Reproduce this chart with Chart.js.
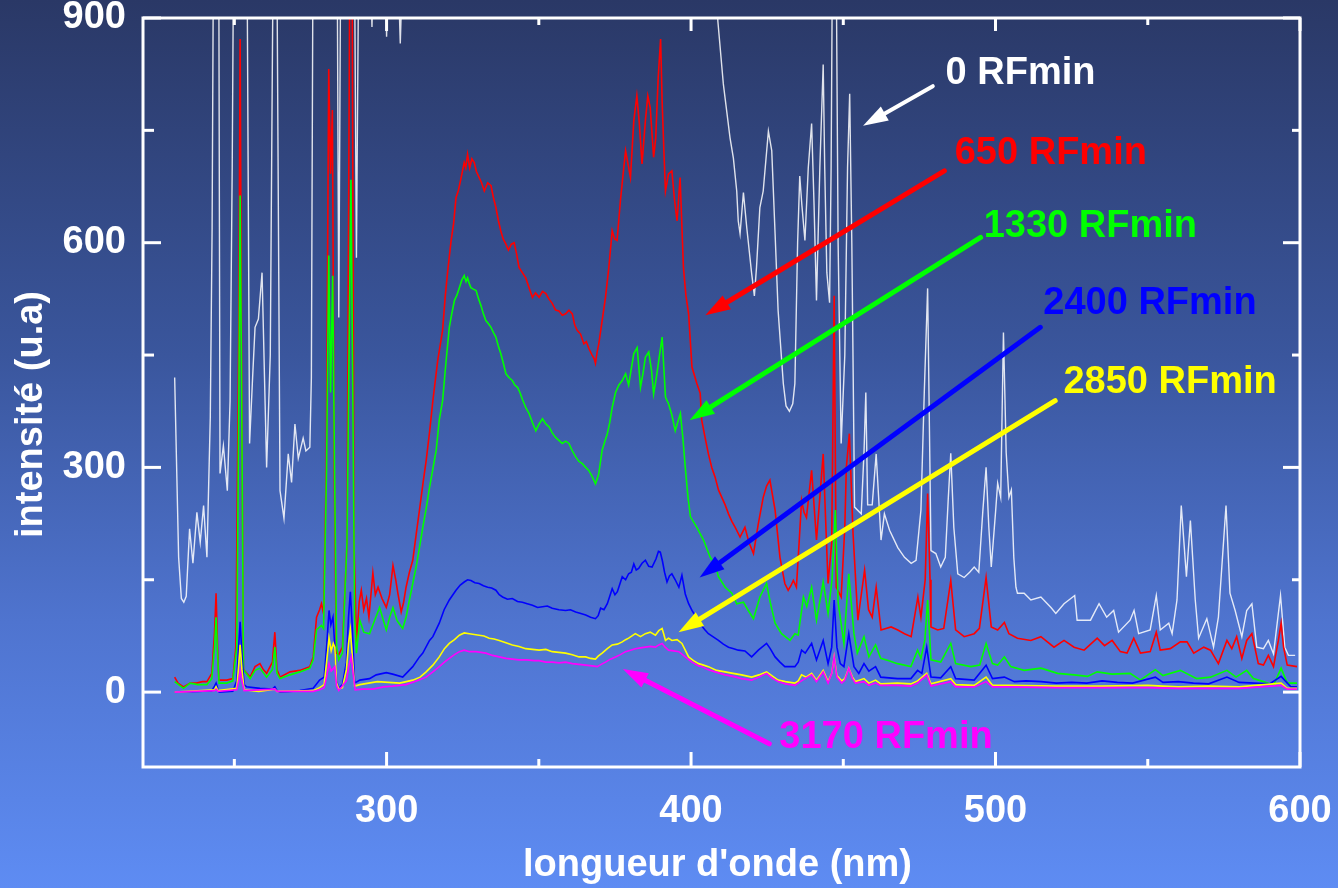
<!DOCTYPE html>
<html>
<head>
<meta charset="utf-8">
<title>intensité (u.a) - longueur d'onde (nm)</title>
<script src="https://cdn.jsdelivr.net/npm/chart.js@4.4.1/dist/chart.umd.min.js"></script>
<style>
  html, body { margin: 0; padding: 0; }
  body {
    width: 1338px; height: 888px; overflow: hidden;
    background: linear-gradient(to bottom, #2a3866 0%, #3a569d 40%, #4f74cf 70%, #5e8cf3 100%);
  }
  canvas { display: block; }
</style>
</head>
<body>
<canvas id="spectrum" width="1338" height="888"></canvas>
<script>
// emission spectra after increasing RF exposure, [wavelength nm, intensity]
const doses = ['0 RFmin', '650 RFmin', '1330 RFmin', '2400 RFmin', '2850 RFmin', '3170 RFmin'];

// values above 900 run off the top of the frame
const spec0 = [
  [230.4,420],[231.7,180],[232.6,125],[233.4,120],[234.2,128],[235.3,218],[236.4,172],[237.7,240],[238.8,200],[239.9,249],
  [241.0,180],[242.1,367],[242.7,620],[243.1,960],[244.9,960],[245.3,292],[246.4,329],[247.7,269],[248.6,389],[249.3,700],
  [249.7,960],[254.2,960],[255.0,332],[256.0,420],[256.8,487],[257.9,498],[259.1,560],[260.6,300],[261.8,450],[262.7,960],
  [264.0,960],[265.0,269],[266.3,232],[267.7,318],[268.8,280],[269.9,358],[271.0,312],[272.6,339],[273.5,322],[274.8,327],
  [275.3,420],[275.8,960],[283.8,960],[284.3,500],[284.9,960],[289.5,960],[290.1,580],[290.8,960],[294.8,960],[295.2,888],
  [295.6,960],[299.6,960],[300.0,875],[300.4,960],[303.8,960],[304.5,866],[305.2,960],[408.3,960],[408.8,896],[410.6,812],
  [412.8,740],[413.9,713],[415.0,669],[415.5,629],[416.1,612],[417.2,667],[418.3,620],[419.9,559],[420.8,529],[421.5,567],
  [422.6,647],[423.7,669],[425.4,749],[426.5,723],[427.6,612],[428.6,509],[430.3,412],[431.2,382],[432.3,375],[433.4,385],
  [434.1,412],[435.0,600],[435.7,689],[436.4,650],[437.4,603],[438.5,700],[439.6,759],[440.4,650],[441.2,523],[442.3,700],
  [443.4,838],[443.9,700],[444.6,560],[445.5,520],[446.0,700],[446.4,960],[447.7,960],[448.3,600],[449.3,332],[450.5,450],
  [451.4,700],[452.1,799],[452.8,600],[453.7,247],[455.9,238],[456.8,320],[457.4,400],[458.0,250],[459.5,250],[460.8,318],
  [462.4,203],[463.5,238],[465.2,216],[467.9,193],[470.1,180],[472.3,172],[473.9,176],[475.5,243],[476.6,400],[477.7,539],
  [478.3,350],[478.8,189],[480.4,185],[482.0,167],[483.5,180],[484.5,260],[485.3,319],[486.3,220],[487.6,158],[489.7,153],
  [491.5,160],[493.0,167],[494.5,160],[495.8,240],[496.9,300],[497.8,220],[498.6,167],[500.0,240],[500.7,279],[501.7,260],
  [502.6,480],[503.5,320],[504.4,260],[505.2,270],[506.0,180],[506.7,140],[507.2,132],[509.4,132],[511.6,123],[514.9,127],
  [518.2,113],[519.8,105],[522.5,118],[526.0,129],[526.8,96],[531.2,96],[534.0,118],[536.5,100],[538.8,109],[540.4,80],
  [544.2,96],[545.5,109],[547.0,78],[550.8,83],[552.8,129],[554.1,83],[556.9,92],[558.0,78],[559.6,123],[561.0,249],
  [562.7,154],[564.0,229],[565.6,123],[566.7,72],[569.4,98],[571.6,60],[573.2,100],[575.7,249],[577.0,132],[578.7,109],
  [580.9,74],[582.5,109],[584.2,118],[585.8,60],[588.0,58],[589.6,69],[591.3,51],[593.6,129],[595.0,60],[596.2,49],[598.4,49]
];

const spec1 = [
  [230.4,20],[231.5,12],[233.3,7],[235.5,12],[237.5,12],[239.5,14],[241.0,14],[242.6,25],[243.5,80],[244.0,132],
  [244.5,60],[244.9,16],[247.5,16],[249.5,18],[250.5,60],[251.5,500],[251.9,872],[252.3,500],[253.0,30],[255.2,20],
  [256.8,34],[258.4,38],[259.5,30],[260.6,25],[262.5,40],[263.3,80],[264.0,30],[265.0,20],[268.3,27],[271.5,29],
  [274.8,34],[275.9,47],[277.0,100],[278.0,110],[278.6,118],[279.3,105],[280.2,300],[281.0,832],[281.6,692],[282.2,777],
  [282.8,300],[283.5,52],[284.3,50],[285.5,60],[287.0,200],[287.9,950],[288.7,950],[289.3,200],[290.1,65],[291.0,120],
  [291.7,136],[292.5,110],[293.4,125],[294.2,100],[295.5,159],[296.3,130],[297.2,140],[298.5,125],[299.9,113],[301.0,130],
  [302.1,169],[303.0,150],[303.7,132],[304.8,107],[305.6,120],[306.4,140],[307.5,160],[308.6,176],[309.7,210],[310.8,243],
  [312.0,280],[313.0,309],[314.2,350],[315.2,389],[316.8,443],[318.4,483],[319.3,530],[320.1,563],[321.2,603],[322.0,625],
  [322.8,660],[323.6,670],[324.5,687],[325.5,707],[326.0,700],[326.6,718],[327.3,700],[328.0,712],[328.8,707],[329.5,695],
  [330.4,687],[331.2,680],[332.1,669],[333.2,680],[334.3,676],[335.1,660],[335.9,647],[336.7,630],[337.5,616],[338.3,605],
  [339.2,598],[340.0,590],[341.0,598],[341.9,600],[342.7,585],[343.5,567],[344.6,560],[345.7,553],[346.8,540],[347.9,527],
  [348.9,533],[350.1,527],[351.2,535],[352.3,532],[353.3,525],[354.4,519],[355.5,510],[356.6,509],[357.7,503],[358.8,505],
  [359.9,510],[361.0,505],[361.8,490],[362.6,483],[363.7,478],[364.8,465],[365.6,468],[366.4,459],[367.5,450],[368.2,445],
  [368.6,439],[369.2,455],[369.7,465],[370.8,496],[371.9,527],[373.0,567],[374.1,616],[374.9,605],[375.7,603],[376.8,656],
  [377.9,700],[378.5,723],[379.3,705],[380.1,687],[381.2,763],[382.2,796],[383.0,760],[383.9,705],[385.0,763],[385.8,796],
  [386.6,780],[387.7,714],[388.4,740],[389.2,820],[390.0,872],[390.5,789],[391.1,720],[391.6,669],[392.6,692],[393.7,696],
  [394.5,660],[395.4,629],[396.4,687],[397.5,567],[398.3,530],[399.2,505],[400.3,434],[401.9,412],[403.0,399],[403.5,363],
  [404.6,340],[405.7,318],[406.8,300],[407.9,287],[409.0,270],[410.1,260],[411.2,250],[412.3,238],[413.4,228],[414.5,220],
  [416.1,207],[417.7,220],[419.0,200],[420.5,185],[422.1,225],[423.7,260],[424.8,275],[425.9,283],[427.6,243],[429.2,180],
  [430.8,145],[431.9,136],[432.8,142],[433.6,149],[434.6,140],[435.5,200],[436.3,256],[437.1,240],[437.9,233],[439.6,296],
  [441.2,203],[442.3,260],[443.4,318],[444.2,230],[445.0,145],[446.2,200],[447.0,529],[447.7,140],[449.3,127],[450.5,220],
  [451.0,300],[452.0,345],[453.2,212],[454.8,96],[455.9,130],[457.0,163],[458.3,110],[459.5,100],[460.8,140],[462.4,83],
  [465.7,87],[467.9,83],[470.1,78],[472.3,74],[474.5,127],[475.5,100],[476.9,150],[477.7,265],[478.5,150],[478.8,87],
  [481.0,83],[483.0,85],[485.3,149],[486.9,83],[489.7,74],[493.0,78],[494.7,85],[496.9,153],[498.6,87],[500.7,83],
  [502.9,93],[504.4,78],[507.2,72],[511.6,69],[514.9,74],[519.2,60],[522.5,69],[525.8,60],[529.1,56],[533.4,72],
  [535.8,62],[538.3,69],[541.0,54],[543.2,52],[545.4,72],[547.6,52],[550.8,54],[552.8,80],[554.1,56],[557.4,58],
  [560.7,67],[562.9,67],[565.1,52],[568.4,60],[570.6,56],[573.2,38],[576.0,69],[577.6,58],[579.2,74],[580.9,45],
  [582.5,69],[584.2,78],[586.3,38],[588.0,36],[589.6,49],[591.3,34],[592.9,69],[593.8,92],[594.6,60],[595.8,36],[599.0,34]
];

const spec2 = [
  [230.4,14],[233.3,5],[235.5,12],[238.0,10],[241.0,10],[242.6,18],[243.5,60],[244.0,100],[244.6,40],[245.0,12],
  [247.5,12],[249.5,15],[250.8,60],[251.5,400],[251.9,663],[252.4,400],[253.0,30],[255.2,18],[256.8,29],[258.4,32],
  [260.6,20],[262.5,30],[263.3,60],[264.0,25],[265.0,18],[268.3,23],[271.5,27],[274.8,32],[275.9,43],[277.0,83],
  [278.6,89],[279.3,85],[280.3,300],[281.0,583],[281.6,400],[282.3,556],[282.9,300],[283.6,60],[284.3,43],[285.5,52],
  [287.0,200],[287.8,500],[288.3,684],[288.9,400],[289.5,100],[290.1,52],[291.2,96],[292.5,80],[294.4,78],[296.0,95],
  [297.7,113],[299.0,95],[299.9,83],[301.0,100],[302.1,113],[303.5,95],[305.3,85],[306.4,100],[307.5,123],[308.6,145],
  [309.7,167],[310.8,193],[311.9,220],[313.0,245],[314.1,273],[315.2,298],[316.3,323],[317.3,363],[318.4,389],[319.5,440],
  [320.6,487],[321.4,505],[322.3,523],[323.1,530],[323.9,540],[324.7,550],[325.5,556],[326.1,548],[326.6,553],[327.2,545],
  [327.7,540],[328.5,538],[329.4,536],[330.2,525],[331.0,516],[331.8,505],[332.6,496],[333.4,492],[334.3,487],[335.1,480],
  [335.9,474],[336.7,462],[337.5,452],[338.3,440],[339.2,425],[340.2,420],[341.3,416],[342.1,410],[343.0,407],[343.8,400],
  [344.6,391],[345.7,380],[346.8,372],[347.9,360],[349.0,349],[350.1,358],[351.2,365],[352.3,358],[353.4,354],[354.4,346],
  [355.5,340],[356.6,336],[357.7,332],[358.8,335],[359.9,332],[361.0,322],[362.1,314],[363.2,308],[364.3,305],[365.4,300],
  [366.4,296],[367.5,288],[368.6,278],[369.2,285],[369.7,292],[370.8,323],[371.7,335],[372.5,345],[373.3,360],[374.1,380],
  [375.2,400],[376.3,410],[377.4,416],[378.5,425],[379.5,410],[380.3,430],[381.2,452],[382.3,460],[383.4,407],[384.2,425],
  [385.0,447],[386.1,454],[387.0,430],[387.7,398],[388.6,420],[389.4,443],[390.5,474],[391.1,430],[391.6,394],[392.6,385],
  [393.7,370],[394.8,349],[395.6,360],[396.5,372],[397.3,340],[398.1,300],[399.0,260],[399.8,234],[401.9,220],[404.1,203],
  [406.3,180],[407.9,171],[409.0,154],[411.2,140],[413.4,132],[415.0,118],[417.2,120],[418.8,109],[420.5,98],[422.6,127],
  [424.8,145],[426.0,120],[427.6,92],[429.7,78],[432.5,69],[434.1,78],[435.2,76],[436.9,127],[438.0,114],[439.6,140],
  [441.2,96],[443.4,147],[445.0,105],[446.3,150],[447.4,243],[448.3,120],[450.2,65],[451.8,158],[453.5,78],[454.6,52],
  [456.8,74],[458.4,47],[460.6,63],[462.3,45],[465.0,42],[467.8,38],[472.2,34],[474.4,56],[475.5,45],[476.8,70],
  [477.7,123],[478.8,43],[482.0,40],[485.3,65],[486.9,38],[491.9,34],[494.8,36],[496.9,65],[499.0,38],[500.7,36],
  [502.9,47],[505.0,34],[509.4,29],[514.9,32],[520.4,25],[525.8,23],[530.2,21],[533.4,27],[538.3,24],[544.2,25],
  [547.6,16],[552.5,30],[555.0,22],[560.7,29],[566.1,18],[570.6,20],[576.0,29],[579.0,20],[582.5,29],[584.7,18],
  [588.0,14],[591.3,9],[593.8,32],[595.8,12],[599.0,12]
];

const spec3 = [
  [230.4,0],[238.0,1],[242.6,2],[243.5,8],[244.0,12],[244.6,4],[245.0,0],[249.5,1],[250.8,15],[251.4,60],
  [251.9,94],[252.5,50],[253.2,10],[254.0,7],[258.4,5],[262.5,4],[263.3,7],[264.0,2],[265.0,0],[271.5,2],
  [275.9,5],[278.0,16],[279.5,20],[280.3,60],[281.1,109],[281.7,90],[282.4,100],[283.0,60],[283.6,15],[284.3,5],
  [285.5,10],[286.8,40],[287.5,100],[288.1,134],[288.7,90],[289.5,12],[291.2,16],[294.4,18],[296.6,23],[299.9,26],
  [302.0,24],[305.3,20],[308.6,34],[310.8,47],[311.9,52],[314.1,69],[315.2,74],[317.3,92],[318.9,110],[320.6,123],
  [322.8,136],[324.2,143],[325.5,147],[326.6,150],[327.7,149],[329.0,146],[330.4,145],[331.8,142],[333.2,140],[334.5,139],
  [335.9,136],[337.0,130],[338.1,127],[339.7,124],[341.3,125],[343.0,121],[344.6,120],[346.2,118],[347.9,116],[349.6,113],
  [351.2,114],[352.8,115],[354.4,112],[356.6,110],[358.8,109],[360.4,110],[362.1,107],[363.8,105],[365.4,103],[367.0,100],
  [368.6,98],[369.5,102],[370.3,112],[371.4,110],[372.5,118],[373.3,128],[374.1,138],[375.0,130],[375.8,134],[377.4,154],
  [378.5,150],[379.5,158],[380.4,160],[381.2,171],[382.0,163],[382.8,165],[383.9,172],[385.0,176],[386.1,168],[387.2,167],
  [388.5,178],[389.3,188],[389.9,187],[390.6,175],[391.3,160],[392.1,147],[392.9,155],[393.7,158],[394.8,150],[396.0,140],
  [397.0,156],[398.1,131],[399.2,118],[400.3,109],[401.4,102],[402.5,94],[403.6,88],[404.6,83],[405.7,78],[407.9,72],
  [409.0,69],[410.6,64],[412.3,60],[414.0,58],[415.5,56],[417.7,55],[419.9,47],[422.1,56],[424.8,65],[426.0,58],
  [427.6,47],[429.2,40],[430.8,34],[434.1,34],[435.2,40],[436.3,56],[437.5,52],[439.6,65],[441.2,43],[443.4,69],
  [445.0,38],[446.2,60],[447.0,123],[447.9,60],[449.0,38],[450.2,34],[451.8,78],[453.5,34],[455.1,25],[456.8,38],
  [458.4,28],[460.6,34],[462.3,20],[467.8,18],[472.2,18],[474.4,29],[475.8,25],[477.4,60],[478.8,20],[482.0,19],
  [485.3,34],[486.9,18],[493.0,16],[496.9,36],[499.0,18],[502.9,20],[506.2,14],[510.0,15],[515.0,14],[520.0,12],
  [525.0,13],[530.0,12],[535.0,15],[540.0,13],[545.0,12],[552.5,20],[555.0,13],[560.0,14],[565.0,12],[570.0,11],
  [576.0,20],[580.0,13],[585.0,12],[590.0,11],[593.8,21],[597.0,7],[599.0,7]
];

const spec4 = [
  [230.4,0],[243.5,3],[244.0,7],[244.6,2],[250.8,5],[251.4,35],[251.9,63],[252.5,30],[253.2,3],[258.0,1],
  [263.3,4],[264.0,1],[275.9,2],[278.0,6],[279.5,10],[280.3,40],[281.1,72],[281.8,55],[282.5,65],[283.0,60],
  [283.6,12],[284.3,4],[285.5,6],[286.8,30],[287.5,65],[288.1,83],[288.7,50],[289.5,8],[291.2,10],[297.0,14],
  [304.3,12],[308.6,16],[311.0,20],[313.0,27],[315.2,36],[317.3,47],[319.0,58],[320.6,65],[322.3,70],[323.9,76],
  [325.5,79],[327.2,78],[328.8,77],[330.4,76],[332.0,75],[333.7,72],[335.3,71],[337.0,69],[339.2,66],[341.3,63],
  [343.5,61],[345.7,58],[347.9,57],[350.1,56],[352.3,57],[354.4,54],[356.6,53],[358.8,52],[361.0,50],[363.2,47],
  [365.4,47],[367.0,45],[368.6,44],[369.5,48],[370.8,52],[372.5,58],[374.1,63],[375.8,64],[377.4,67],[378.5,70],
  [379.5,72],[380.6,75],[381.7,78],[383.4,74],[385.0,78],[386.6,80],[388.3,76],[389.4,82],[390.5,85],[391.0,78],
  [391.6,69],[392.6,72],[393.7,69],[395.4,70],[397.0,65],[398.1,56],[399.2,47],[400.8,42],[402.5,38],[404.1,36],
  [405.7,34],[408.4,29],[411.2,27],[413.8,25],[416.6,23],[419.9,20],[422.3,23],[424.8,27],[426.5,22],[428.6,16],
  [431.0,14],[434.1,12],[435.2,15],[436.3,23],[437.8,20],[439.6,25],[441.2,16],[443.4,29],[445.0,14],[446.2,25],
  [447.0,47],[447.9,22],[449.5,15],[450.5,18],[451.8,32],[453.0,20],[454.0,14],[456.8,18],[458.4,12],[460.6,16],
  [462.3,11],[467.8,12],[472.2,11],[474.4,15],[477.4,25],[478.8,11],[485.3,18],[486.9,10],[493.0,9],[496.9,20],
  [499.0,9],[505.0,9],[520.0,8],[535.0,8],[550.0,9],[560.0,7],[570.0,8],[580.0,7],[593.8,12],[595.8,5],[599.0,5]
];

const spec5 = [
  [230.4,0],[243.5,2],[244.0,4],[244.6,1],[250.8,3],[251.4,15],[251.9,29],[252.5,15],[253.2,2],[263.3,4],
  [264.0,1],[275.9,1],[278.0,3],[279.5,6],[280.3,20],[281.1,38],[281.8,28],[283.0,34],[283.6,8],[284.3,2],
  [286.8,15],[287.6,35],[288.4,47],[289.0,25],[289.7,3],[292.0,4],[295.5,4],[299.0,7],[302.0,8],[306.4,10],
  [310.0,15],[313.0,20],[315.2,27],[317.3,34],[319.0,40],[320.6,45],[322.3,50],[323.9,54],[325.5,56],[327.2,54],
  [329.4,54],[331.0,53],[332.6,52],[334.8,49],[337.0,47],[339.2,45],[341.3,44],[343.5,43],[346.0,43],[348.5,42],
  [350.1,42],[352.3,40],[354.5,40],[356.7,39],[358.8,40],[361.0,38],[363.2,37],[365.4,36],[367.5,35],[369.2,34],
  [370.5,37],[371.9,40],[373.5,44],[375.2,47],[376.8,50],[378.5,54],[380.1,56],[381.7,58],[383.4,59],[385.0,60],
  [386.6,61],[388.3,60],[389.4,63],[390.5,65],[391.5,60],[392.6,56],[394.3,55],[396.0,54],[398.1,47],[400.3,40],
  [402.5,35],[403.6,34],[405.5,30],[407.9,27],[411.2,23],[413.8,21],[416.6,18],[419.9,16],[422.3,20],[424.8,25],
  [426.5,19],[428.6,14],[431.0,11],[434.1,9],[435.5,13],[437.0,17],[439.6,23],[441.2,14],[443.4,27],[445.0,12],
  [446.2,25],[447.0,47],[447.9,20],[449.5,12],[450.5,16],[451.8,32],[453.0,18],[454.0,12],[456.8,14],[458.4,9],
  [460.6,12],[462.3,9],[467.8,9],[472.2,8],[474.4,12],[477.4,23],[478.8,8],[485.3,14],[486.9,7],[493.0,7],
  [496.9,14],[499.0,7],[505.0,7],[520.0,6],[535.0,6],[550.0,6],[560.0,5],[570.0,5],[580.0,5],[593.8,9],[595.8,4],[599.0,4]
];

const series = [spec0, spec1, spec2, spec3, spec4, spec5];
const palette = ['rgba(255,255,255,0.85)', '#ff0000', '#00ff00', '#0000ff', '#ffff00', '#ff00ff'];

const xMajor = [300, 400, 500, 600];
const xMinor = [250, 350, 450, 550];
const yMajor = [0, 300, 600, 900];
const yMinor = [150, 450, 750];

// callouts in data units: text origin (left, baseline) and arrow tail -> head
const callouts = [
  { text: [483.6, 812], from: [479.4, 809], to: [456.5, 756] },
  { text: [486.6, 705], from: [483.2, 696], to: [404.7, 503] },
  { text: [496.1, 608], from: [495.1, 607], to: [399.5, 363] },
  { text: [515.7, 505], from: [514.7, 487], to: [402.8, 153] },
  { text: [522.3, 399], from: [519.6, 389], to: [395.9, 80] },
  { text: [429.0, -75], from: [425.7, -69], to: [377.6, 31] }
];

const FONT = '"Liberation Sans", Arial, sans-serif';

const framePlugin = {
  id: 'frameAndCallouts',
  afterDatasetsDraw(chart) {
    const { ctx, chartArea: a, scales: { x, y } } = chart;
    ctx.save();

    // white box with inward ticks on all four sides
    ctx.strokeStyle = '#ffffff';
    ctx.lineWidth = 3;
    ctx.strokeRect(a.left, a.top, a.right - a.left, a.bottom - a.top);
    const seg = (x1, y1, x2, y2) => { ctx.beginPath(); ctx.moveTo(x1, y1); ctx.lineTo(x2, y2); ctx.stroke(); };
    xMajor.forEach(v => { const p = x.getPixelForValue(v); seg(p, a.bottom, p, a.bottom - 15); seg(p, a.top, p, a.top + 13); });
    xMinor.forEach(v => { const p = x.getPixelForValue(v); seg(p, a.bottom, p, a.bottom - 8); seg(p, a.top, p, a.top + 7); });
    yMajor.forEach(v => { const p = y.getPixelForValue(v); seg(a.left, p, a.left + 18, p); seg(a.right, p, a.right - 17, p); });
    yMinor.forEach(v => { const p = y.getPixelForValue(v); seg(a.left, p, a.left + 11, p); seg(a.right, p, a.right - 8, p); });

    // arrows and dose labels
    callouts.forEach((c, i) => {
      const col = i === 0 ? '#ffffff' : palette[i];
      const x1 = x.getPixelForValue(c.from[0]), y1 = y.getPixelForValue(c.from[1]);
      const x2 = x.getPixelForValue(c.to[0]), y2 = y.getPixelForValue(c.to[1]);
      const ang = Math.atan2(y2 - y1, x2 - x1);
      const head = 25, half = 8;
      ctx.strokeStyle = col;
      ctx.fillStyle = col;
      ctx.lineWidth = i === 0 ? 4 : 5;
      ctx.lineCap = 'round';
      seg(x1, y1, x2 - Math.cos(ang) * head * 0.8, y2 - Math.sin(ang) * head * 0.8);
      ctx.beginPath();
      ctx.moveTo(x2, y2);
      ctx.lineTo(x2 - Math.cos(ang) * head - Math.sin(ang) * half, y2 - Math.sin(ang) * head + Math.cos(ang) * half);
      ctx.lineTo(x2 - Math.cos(ang) * head + Math.sin(ang) * half, y2 - Math.sin(ang) * head - Math.cos(ang) * half);
      ctx.closePath();
      ctx.fill();

      ctx.font = 'bold 38px ' + FONT;
      ctx.textAlign = 'left';
      ctx.textBaseline = 'alphabetic';
      ctx.fillText(doses[i], x.getPixelForValue(c.text[0]), y.getPixelForValue(c.text[1]));
    });

    // axis titles
    ctx.fillStyle = '#ffffff';
    ctx.font = 'bold 38px ' + FONT;
    ctx.textAlign = 'center';
    ctx.textBaseline = 'middle';
    ctx.fillText("longueur d'onde (nm)", (a.left + a.right) / 2 - 4, 866);
    ctx.translate(32, (a.top + a.bottom) / 2 + 22);
    ctx.rotate(-Math.PI / 2);
    ctx.fillText('intensité (u.a)', 0, 0);
    ctx.restore();
  }
};

const datasets = series.map((s, i) => ({
  label: doses[i],
  data: s.map(([w, v]) => ({ x: w, y: v })),
  borderColor: palette[i],
  borderWidth: i === 0 ? 1.4 : 1.6,
  pointRadius: 0,
  tension: 0,
  fill: false,
  order: series.length - i
}));

new Chart(document.getElementById('spectrum'), {
  type: 'line',
  data: { datasets },
  options: {
    responsive: false,
    animation: false,
    devicePixelRatio: 1,
    layout: { padding: { left: 0, right: 38, top: 18, bottom: 0 } },
    plugins: { legend: { display: false }, tooltip: { enabled: false } },
    scales: {
      x: {
        type: 'linear',
        min: 220, max: 600,
        grid: { display: false, drawTicks: false },
        border: { display: false },
        afterBuildTicks: s => { s.ticks = xMajor.map(v => ({ value: v })); },
        afterFit: s => { s.height = 121; s.paddingLeft = 0; s.paddingRight = 0; },
        ticks: { color: '#ffffff', padding: 22, maxRotation: 0, font: { family: FONT, size: 38, weight: 'bold' } }
      },
      y: {
        type: 'linear',
        min: -100, max: 900,
        grid: { display: false, drawTicks: false },
        border: { display: false },
        afterBuildTicks: s => { s.ticks = yMajor.map(v => ({ value: v })); },
        afterFit: s => { s.width = 143; s.paddingTop = 0; s.paddingBottom = 0; },
        ticks: { color: '#ffffff', padding: 17, font: { family: FONT, size: 38, weight: 'bold' } }
      }
    }
  },
  plugins: [framePlugin]
});
</script>
</body>
</html>
